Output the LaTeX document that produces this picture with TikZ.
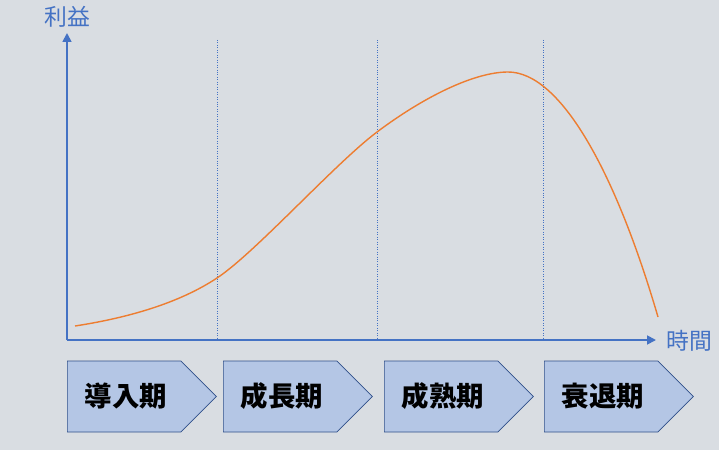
\documentclass[tikz,border=0pt]{standalone}
\usepackage{fontspec}
\setmainfont{Noto Sans CJK JP}
\usetikzlibrary{shapes.symbols,arrows.meta}
\definecolor{bgcol}{HTML}{D9DDE2}
\definecolor{axisblue}{HTML}{4472C4}
\definecolor{curveorange}{HTML}{ED7D31}
\definecolor{phasefill}{HTML}{B4C6E5}
\definecolor{phaseline}{HTML}{2F4F8A}
\begin{document}
\begin{tikzpicture}[
  axis/.style={axisblue, line width=1pt, -{Triangle[length=5pt,width=5pt]}},
  axislabel/.style={text=axisblue, font=\fontsize{13}{15}\selectfont, inner sep=0pt},
  divider/.style={axisblue, line width=0.4pt, densely dotted},
  phase/.style={shape=signal, signal to=east, draw=phaseline, fill=phasefill, line width=0.4pt,
    minimum width=2.98cm, minimum height=1.42cm, anchor=west, inner sep=0pt,
    font=\fontsize{15.6}{18}\selectfont\bfseries}]
  \useasboundingbox (0,0) rectangle (14.38,9.0);
  \fill[bgcol] (0,0) rectangle (14.38,9.0);
  \coordinate (O) at (1.34, 2.20);
  \coordinate (ytop) at (1.34, 8.34);
  \coordinate (xend) at (13.12, 2.20);
  \node[axislabel] (profit) at (1.34, 8.66) {利益};
  \node[axislabel, anchor=west] (time) at (13.32, 2.18) {時間};
  \foreach \x [count=\i] in {4.34, 7.54, 10.86} {
    \coordinate (d\i top) at (\x, 8.20);
    \coordinate (d\i bot) at (\x, 2.20);
    \draw[divider] (d\i top) -- (d\i bot);
  }
  \coordinate (c0) at (1.50, 2.48);
  \coordinate (c1) at (4.34, 3.44);
  \coordinate (c2) at (7.54, 6.36);
  \coordinate (peak) at (10.16, 7.56);
  \coordinate (c4) at (13.16, 2.66);
  \draw[curveorange, line width=0.8pt] (c0)
    .. controls (2.6, 2.65) and (3.6, 2.95) .. (c1)
    .. controls (5.1, 3.94) and (6.7, 5.73) .. (c2)
    .. controls (8.5, 7.08) and (9.5, 7.56) .. (peak)
    .. controls (11.2, 7.56) and (12.3, 5.6) .. (c4);
  \draw[axis] (O) -- (ytop);
  \draw[axis] (O) -- (xend);
  \node[phase] (intro) at (1.34, 1.07) {\hspace{0.08cm}導入期};
  \node[phase] (growth) at (4.46, 1.07) {\hspace{0.08cm}成長期};
  \node[phase] (mature) at (7.68, 1.07) {\hspace{0.08cm}成熟期};
  \node[phase] (decline) at (10.88, 1.07) {\hspace{0.08cm}衰退期};
\end{tikzpicture}
\end{document}
